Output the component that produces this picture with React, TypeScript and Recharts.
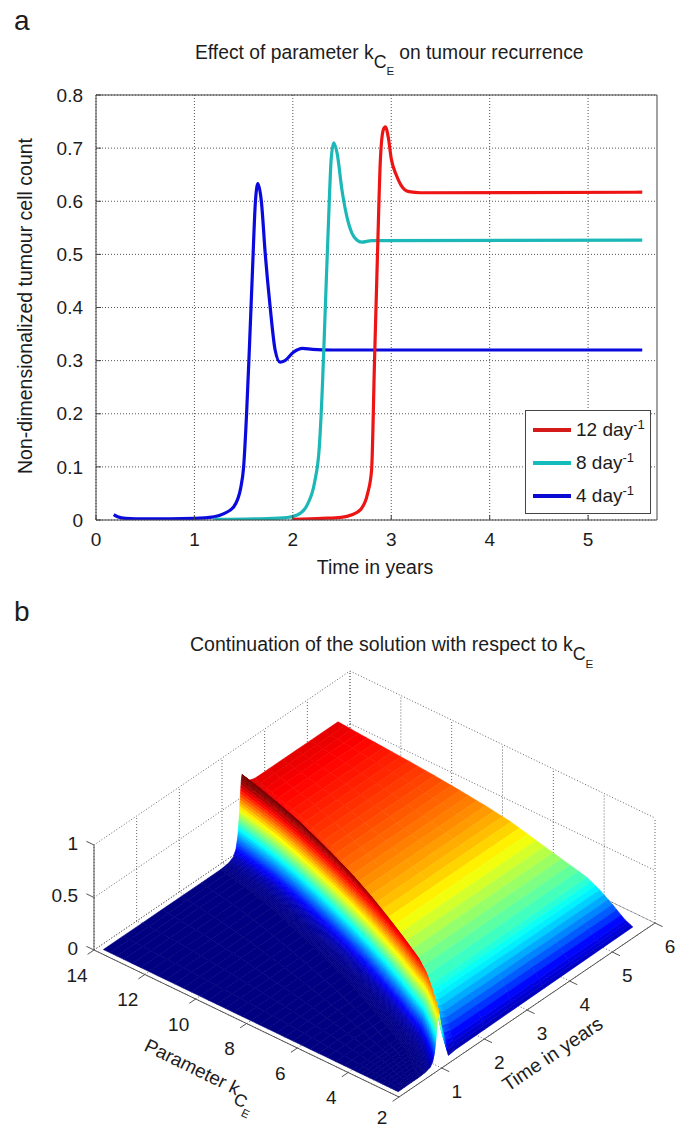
import {
  CartesianGrid,
  Legend,
  Line,
  LineChart,
  Scatter,
  ScatterChart,
  XAxis,
  YAxis,
} from 'recharts'

const FONT = '"Liberation Sans", Arial, sans-serif'
const INK = '#1c1c1c'
const AXIS = '#444444'

// panel a: tumour cell count against time
const blueSeries = [
  [0.18, 0.01], [0.22, 0.006], [0.3, 0.003], [0.5, 0.002], [1, 0.003], [1.2, 0.006], [1.3, 0.012],
  [1.4, 0.025], [1.47, 0.06], [1.5, 0.1], [1.53, 0.2], [1.56, 0.33], [1.59, 0.47], [1.62, 0.6],
  [1.645, 0.633], [1.68, 0.6], [1.72, 0.5], [1.77, 0.4], [1.82, 0.32], [1.87, 0.297], [1.92, 0.3],
  [2.0, 0.315], [2.1, 0.323], [2.2, 0.321], [2.4, 0.32], [5.55, 0.32],
]
const tealSeries = [
  [1.2, 0.001], [1.6, 0.002], [1.9, 0.004], [2.05, 0.01], [2.15, 0.03], [2.22, 0.07], [2.27, 0.14],
  [2.3, 0.25], [2.33, 0.4], [2.36, 0.55], [2.39, 0.68], [2.416, 0.71], [2.45, 0.69], [2.5, 0.62],
  [2.55, 0.57], [2.6, 0.54], [2.65, 0.527], [2.7, 0.523], [2.8, 0.526], [5.55, 0.527],
]
const redSeries = [
  [2.0, 0.001], [2.3, 0.003], [2.49, 0.005], [2.6, 0.01], [2.69, 0.02], [2.76, 0.05], [2.8, 0.094],
  [2.83, 0.3], [2.86, 0.5], [2.89, 0.68], [2.92, 0.735], [2.94, 0.74], [2.97, 0.72], [3.0, 0.68],
  [3.05, 0.65], [3.1, 0.63], [3.18, 0.618], [3.3, 0.616], [5.55, 0.617],
]
const timeTicksA = [0, 1, 2, 3, 4, 5]
const countTicksA = [0, 0.1, 0.2, 0.3, 0.4, 0.5, 0.6, 0.7, 0.8]

// panel b: surface rows, one per parameter value
const surfaceK = [2.2, 2.5, 3, 3.5, 4, 5, 6, 7, 8, 9, 10, 11, 12, 13, 13.8]
const surfaceT = [
  [0.1, 0.55, 0.73, 0.85, 0.91, 0.95, 0.98, 1.005, 1.03, 1.05, 1.12, 1.28, 1.43, 5.6],
  [0.1, 0.67, 0.85, 0.97, 1.03, 1.07, 1.1, 1.125, 1.15, 1.17, 1.24, 1.38, 1.54, 5.6],
  [0.1, 0.86, 1.04, 1.16, 1.22, 1.26, 1.29, 1.315, 1.34, 1.36, 1.43, 1.56, 1.7, 5.6],
  [0.1, 1.03, 1.21, 1.33, 1.39, 1.43, 1.46, 1.485, 1.51, 1.53, 1.6, 1.71, 1.83, 5.6],
  [0.1, 1.15, 1.33, 1.45, 1.51, 1.55, 1.58, 1.605, 1.63, 1.65, 1.72, 1.83, 1.95, 5.6],
  [0.1, 1.39, 1.57, 1.69, 1.75, 1.79, 1.82, 1.845, 1.87, 1.89, 1.96, 2.07, 2.19, 5.6],
  [0.1, 1.61, 1.79, 1.91, 1.97, 2.01, 2.04, 2.065, 2.09, 2.11, 2.18, 2.29, 2.41, 5.6],
  [0.1, 1.82, 2.0, 2.12, 2.18, 2.22, 2.25, 2.275, 2.3, 2.32, 2.39, 2.5, 2.62, 5.6],
  [0.1, 2.01, 2.19, 2.31, 2.37, 2.41, 2.44, 2.465, 2.49, 2.51, 2.58, 2.69, 2.81, 5.6],
  [0.1, 2.19, 2.37, 2.49, 2.55, 2.59, 2.62, 2.645, 2.67, 2.69, 2.76, 2.87, 2.99, 5.6],
  [0.1, 2.36, 2.54, 2.66, 2.72, 2.76, 2.79, 2.815, 2.84, 2.86, 2.93, 3.04, 3.16, 5.6],
  [0.1, 2.52, 2.7, 2.82, 2.88, 2.92, 2.95, 2.975, 3.0, 3.02, 3.09, 3.2, 3.32, 5.6],
  [0.1, 2.66, 2.84, 2.96, 3.02, 3.06, 3.09, 3.115, 3.14, 3.16, 3.23, 3.34, 3.46, 5.6],
  [0.1, 2.77, 2.95, 3.07, 3.13, 3.17, 3.2, 3.225, 3.25, 3.27, 3.34, 3.45, 3.57, 5.6],
  [0.1, 2.85, 3.03, 3.15, 3.21, 3.25, 3.28, 3.305, 3.33, 3.35, 3.42, 3.53, 3.65, 5.6],
]
const surfaceZ = [
  [0, 0.002, 0.008, 0.025, 0.065, 0.135, 0.235, 0.35, 0.46, 0.5, 0.28, 0.02, 0.03, 0.05],
  [0, 0.002, 0.008, 0.026, 0.068, 0.14, 0.244, 0.364, 0.478, 0.52, 0.33, 0.1, 0.08, 0.08],
  [0, 0.002, 0.008, 0.028, 0.072, 0.149, 0.259, 0.385, 0.506, 0.55, 0.37, 0.2, 0.17, 0.17],
  [0, 0.002, 0.009, 0.03, 0.077, 0.159, 0.277, 0.413, 0.543, 0.59, 0.43, 0.28, 0.25, 0.25],
  [0, 0.002, 0.01, 0.032, 0.083, 0.171, 0.298, 0.444, 0.584, 0.635, 0.48, 0.34, 0.3, 0.31],
  [0, 0.002, 0.01, 0.033, 0.085, 0.176, 0.306, 0.455, 0.598, 0.65, 0.52, 0.39, 0.36, 0.37],
  [0, 0.002, 0.01, 0.034, 0.087, 0.181, 0.315, 0.469, 0.616, 0.67, 0.56, 0.45, 0.43, 0.43],
  [0, 0.002, 0.01, 0.035, 0.09, 0.186, 0.324, 0.483, 0.635, 0.69, 0.6, 0.51, 0.49, 0.49],
  [0, 0.002, 0.011, 0.036, 0.092, 0.192, 0.334, 0.497, 0.653, 0.71, 0.63, 0.55, 0.525, 0.527],
  [0, 0.002, 0.011, 0.036, 0.094, 0.194, 0.338, 0.504, 0.662, 0.72, 0.65, 0.575, 0.555, 0.555],
  [0, 0.002, 0.011, 0.037, 0.095, 0.197, 0.343, 0.511, 0.672, 0.73, 0.665, 0.6, 0.58, 0.58],
  [0, 0.002, 0.011, 0.037, 0.096, 0.2, 0.348, 0.518, 0.681, 0.74, 0.68, 0.615, 0.6, 0.6],
  [0, 0.002, 0.011, 0.037, 0.097, 0.201, 0.35, 0.522, 0.685, 0.745, 0.69, 0.63, 0.617, 0.617],
  [0, 0.002, 0.011, 0.038, 0.099, 0.205, 0.357, 0.532, 0.699, 0.76, 0.705, 0.65, 0.635, 0.635],
  [0, 0.002, 0.012, 0.039, 0.1, 0.208, 0.362, 0.539, 0.708, 0.77, 0.715, 0.665, 0.65, 0.65],
]
const kTicks = [2, 4, 6, 8, 10, 12, 14]
const tTicks = [0, 1, 2, 3, 4, 5, 6]
const zTicks = [0, 0.5, 1]

// orthographic view of the 3d box, in page pixels
const view = { x0: 399, y0: 1097, kx: -305, ky: -147, tx: 256, ty: -174, zy: -105 }
const project = (k: number, t: number, z: number) => {
  const u = (k - 2) / 12
  const v = t / 6
  return {
    sx: view.x0 + view.kx * u + view.tx * v,
    sy: view.y0 + view.ky * u + view.ty * v + view.zy * z,
  }
}

const toXY = (rows: number[][]) => rows.map(([t, z]) => ({ t, z }))

const surfaceVertices = surfaceK.flatMap((k, r) =>
  surfaceT[r].map((t, c) => project(k, t, surfaceZ[r][c])),
)

const segment = (a: number[], b: number[]) => [project(a[0], a[1], a[2]), project(b[0], b[1], b[2])]
const gridSegments = [
  ...tTicks.flatMap((t) => [
    ...segment([14, t, 0], [14, t, 1]),
    ...segment([2, t, 0], [14, t, 0]),
  ]),
  ...kTicks.flatMap((k) => [
    ...segment([k, 6, 0], [k, 6, 1]),
    ...segment([k, 0, 0], [k, 6, 0]),
  ]),
  ...zTicks.flatMap((z) => [
    ...segment([14, 0, z], [14, 6, z]),
    ...segment([14, 6, z], [2, 6, z]),
  ]),
]
const axisSegments = [
  ...segment([2, 0, 0], [14, 0, 0]),
  ...segment([2, 0, 0], [2, 6, 0]),
  ...segment([14, 0, 0], [14, 0, 1]),
  ...kTicks.flatMap((k) => segment([k, 0, 0], [k, -0.15, 0])),
  ...tTicks.slice(1).flatMap((t) => segment([2, t, 0], [1.7, t, 0])),
  ...zTicks.flatMap((z) => segment([14, 0, z], [14.3, 0, z])),
]
const tickLabels = [
  ...kTicks.map((k) => ({ ...project(k, 0, 0), label: String(k), dx: -17, dy: k === 2 ? 20 : 25, anchor: 'middle' })),
  ...tTicks.slice(1).map((t) => ({ ...project(2, t, 0), label: String(t), dx: 15, dy: 23, anchor: 'middle' })),
  ...zTicks.map((z) => ({ ...project(14, 0, z), label: String(z), dx: -16, dy: -2, anchor: 'end' })),
]

function jet(x: number) {
  const c = (v: number) => Math.round(255 * Math.max(0, Math.min(1, v)))
  const n = Math.max(0, Math.min(1, x))
  return `rgb(${c(1.5 - Math.abs(4 * n - 3))},${c(1.5 - Math.abs(4 * n - 2))},${c(1.5 - Math.abs(4 * n - 1))})`
}

const COLOR_MAX = 0.72
const SUB_K = 3
const SUB_T = 6

// the scatter hands us the vertices in pixels; paint facets far to near
function SurfaceMesh({ points }: any) {
  const cols = surfaceT[0].length
  const at = (r: number, c: number) => points[r * cols + c]
  const facets: any[] = []
  const mix = (a: number, b: number, f: number) => a + (b - a) * f
  const corner = (r: number, c: number, i: number, j: number) => {
    const fk = i / SUB_K
    const ft = j / SUB_T
    const p00 = at(r, c)
    const p01 = at(r, c + 1)
    const p10 = at(r + 1, c)
    const p11 = at(r + 1, c + 1)
    return {
      x: mix(mix(p00.x, p01.x, ft), mix(p10.x, p11.x, ft), fk),
      y: mix(mix(p00.y, p01.y, ft), mix(p10.y, p11.y, ft), fk),
    }
  }
  const height = (r: number, c: number, fk: number, ft: number) =>
    mix(
      mix(surfaceZ[r][c], surfaceZ[r][c + 1], ft),
      mix(surfaceZ[r + 1][c], surfaceZ[r + 1][c + 1], ft),
      fk,
    )
  for (let r = surfaceK.length - 2; r >= 0; r--) {
    for (let i = SUB_K - 1; i >= 0; i--) {
      for (let c = cols - 2; c >= 0; c--) {
        for (let j = SUB_T - 1; j >= 0; j--) {
          const a = corner(r, c, i, j)
          const b = corner(r, c, i, j + 1)
          const d = corner(r, c, i + 1, j + 1)
          const e = corner(r, c, i + 1, j)
          const fill = jet(height(r, c, (i + 0.5) / SUB_K, (j + 0.5) / SUB_T) / COLOR_MAX)
          facets.push(
            <polygon
              key={`${r}-${i}-${c}-${j}`}
              points={`${a.x},${a.y} ${b.x},${b.y} ${d.x},${d.y} ${e.x},${e.y}`}
              fill={fill}
              stroke={fill}
              strokeWidth={0.6}
            />,
          )
        }
      }
    }
  }
  return <g>{facets}</g>
}

// pairs of points become separate strokes
const Segments = (stroke: string, dash?: string, width = 1) =>
  function SegmentLines({ points }: any) {
    const out: any[] = []
    for (let i = 0; i + 1 < points.length; i += 2) {
      out.push(
        <line
          key={i}
          x1={points[i].x}
          y1={points[i].y}
          x2={points[i + 1].x}
          y2={points[i + 1].y}
          stroke={stroke}
          strokeDasharray={dash}
          strokeWidth={width}
        />,
      )
    }
    return <g>{out}</g>
  }

const NoDot = () => <g />

function TickText({ cx, cy, payload }: any) {
  return (
    <text
      x={cx + payload.dx}
      y={cy + payload.dy}
      textAnchor={payload.anchor}
      dominantBaseline="central"
      fontSize={19}
      fontFamily={FONT}
      fill={INK}
    >
      {payload.label}
    </text>
  )
}

function KSub({ size }: { size: number }) {
  return (
    <>
      <tspan>k</tspan>
      <tspan dy={size * 0.45} fontSize={size * 0.92}>C</tspan>
      <tspan dy={size * 0.4} fontSize={size * 0.6}>E</tspan>
    </>
  )
}

function LegendBox() {
  const rows = [
    { name: '12 day', color: '#d51a1a' },
    { name: '8 day', color: '#14bcbc' },
    { name: '4 day', color: '#0a0ad2' },
  ]
  return (
    <div
      style={{
        width: 126,
        height: 104,
        boxSizing: 'border-box',
        border: '1px solid #444',
        background: '#fff',
        fontFamily: FONT,
        fontSize: 19,
        color: INK,
        padding: '2px 0 0 7px',
      }}
    >
      {rows.map((row) => (
        <div key={row.name} style={{ display: 'flex', alignItems: 'center', height: 33 }}>
          <div style={{ width: 38, height: 4, background: row.color, marginRight: 5 }} />
          <span style={{ whiteSpace: 'nowrap' }}>
            {row.name}
            <sup style={{ fontSize: 13, lineHeight: 0 }}>-1</sup>
          </span>
        </div>
      ))}
    </div>
  )
}

const axisText = { fontSize: 19, fill: INK, fontFamily: FONT }

export default function App() {
  return (
    <div style={{ position: 'absolute', left: 0, top: 0, width: 686, height: 1127, background: '#fff', overflow: 'hidden' }}>
      {/* panel a */}
      <div style={{ position: 'absolute', left: 0, top: 0 }}>
        <LineChart width={686} height={590} margin={{ top: 94, right: 28, bottom: 69, left: 95 }}>
          <CartesianGrid stroke="#555" strokeDasharray="1 2" syncWithTicks />
          <XAxis
            type="number"
            dataKey="t"
            domain={[0, 5.7]}
            ticks={timeTicksA}
            height={1}
            stroke={AXIS}
            tick={axisText}
            tickSize={-5}
            tickMargin={18}
            tickFormatter={(v) => String(v)}
            allowDataOverflow
          />
          <XAxis
            xAxisId="top"
            orientation="top"
            type="number"
            dataKey="t"
            domain={[0, 5.7]}
            ticks={timeTicksA}
            height={1}
            stroke={AXIS}
            tick={false}
            tickSize={-5}
            allowDataOverflow
          />
          <YAxis
            type="number"
            domain={[0, 0.8]}
            ticks={countTicksA}
            width={1}
            stroke={AXIS}
            tick={axisText}
            tickSize={-5}
            tickMargin={18}
            allowDataOverflow
          />
          <YAxis
            yAxisId="right"
            orientation="right"
            type="number"
            domain={[0, 0.8]}
            ticks={countTicksA}
            width={1}
            stroke={AXIS}
            tick={false}
            tickSize={-5}
            allowDataOverflow
          />
          <Line data={toXY(blueSeries)} dataKey="z" name="4 day" type="monotone" stroke="#0a0ade" strokeWidth={3.2} dot={false} isAnimationActive={false} />
          <Line data={toXY(tealSeries)} dataKey="z" name="8 day" type="monotone" stroke="#1cb8b8" strokeWidth={3.2} dot={false} isAnimationActive={false} />
          <Line data={toXY(redSeries)} dataKey="z" name="12 day" type="monotone" stroke="#ee1414" strokeWidth={3.2} dot={false} isAnimationActive={false} />
          <Legend
            layout="horizontal"
            verticalAlign="middle"
            align="center"
            content={<LegendBox />}
            wrapperStyle={{ position: 'absolute', left: 525, top: 410, width: 126, height: 104 }}
          />
        </LineChart>
      </div>

      {/* panel b */}
      <div style={{ position: 'absolute', left: 0, top: 600 }}>
        <ScatterChart width={686} height={527} margin={{ top: 0, right: 0, bottom: 0, left: 0 }}>
          <XAxis type="number" dataKey="sx" domain={[0, 686]} hide />
          <YAxis type="number" dataKey="sy" domain={[600, 1127]} reversed hide />
          <Scatter data={gridSegments} shape={NoDot} line={Segments('#666', '1 2')} isAnimationActive={false} />
          <Scatter data={surfaceVertices} shape={NoDot} line={SurfaceMesh} isAnimationActive={false} />
          <Scatter data={axisSegments} shape={NoDot} line={Segments('#555')} isAnimationActive={false} />
          <Scatter data={tickLabels} shape={TickText} isAnimationActive={false} />
        </ScatterChart>
      </div>

      {/* titles and axis names */}
      <svg width={686} height={1127} style={{ position: 'absolute', left: 0, top: 0, pointerEvents: 'none' }} fontFamily={FONT} fill={INK}>
        <text x={14} y={30} fontSize={28}>a</text>
        <text x={14} y={621} fontSize={28}>b</text>
        <text x={195} y={59} fontSize={19.3}>
          Effect of parameter <KSub size={19.3} />
          <tspan dy={-16.4} dx={5}>on tumour recurrence</tspan>
        </text>
        <text x={375} y={574} fontSize={19.5} textAnchor="middle">Time in years</text>
        <text transform="translate(32,306) rotate(-90)" fontSize={19.5} textAnchor="middle">
          Non-dimensionalized tumour cell count
        </text>
        <text x={190} y={651} fontSize={19.5}>
          Continuation of the solution with respect to <KSub size={19.5} />
        </text>
        <text transform="translate(143,1050) rotate(26)" fontSize={19}>
          Parameter <KSub size={19} />
        </text>
        <text transform="translate(508,1092) rotate(-34)" fontSize={19.5}>Time in years</text>
      </svg>
    </div>
  )
}
